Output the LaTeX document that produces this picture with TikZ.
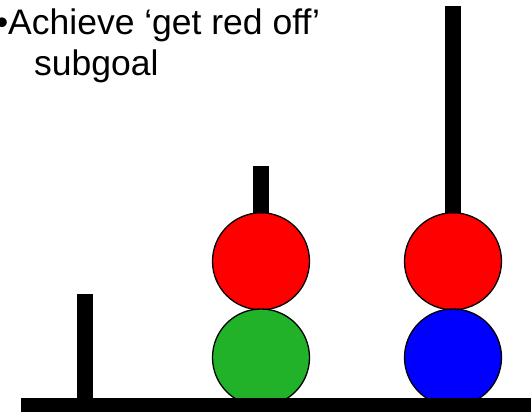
\documentclass[tikz,border=0pt]{standalone}
\usepackage{fontspec}
\setmainfont{Liberation Sans}
\definecolor{ballgreen}{RGB}{34,178,41}
\begin{document}
\begin{tikzpicture}[x=1pt,y=-1pt,
  peg/.style={fill=black,draw=none},
  ball/.style={circle,draw=black,line width=1.3pt,minimum size=97pt,inner sep=0pt},
  lbl/.style={anchor=base west,inner sep=0pt,font=\fontsize{35.5pt}{41pt}\selectfont}]
\useasboundingbox (0,0) rectangle (531,412);
\fill[white] (0,0) rectangle (531,412);
\node[lbl] (t1) at (-4.4,35) {•Achieve ‘get red off’};
\node[lbl] (t2) at (34,76) {subgoal};
\fill[peg] (77,294) rectangle (93,400);
\fill[peg] (253,166) rectangle (269,260);
\fill[peg] (445,6) rectangle (461,260);
\node[ball,fill=red] (r1) at (261,261.3) {};
\node[ball,fill=ballgreen] (g1) at (261,357.5) {};
\node[ball,fill=red] (r2) at (453,261.3) {};
\node[ball,fill=blue] (b2) at (453,357.5) {};
\fill[peg] (21,398) rectangle (531,412);
\end{tikzpicture}
\end{document}
